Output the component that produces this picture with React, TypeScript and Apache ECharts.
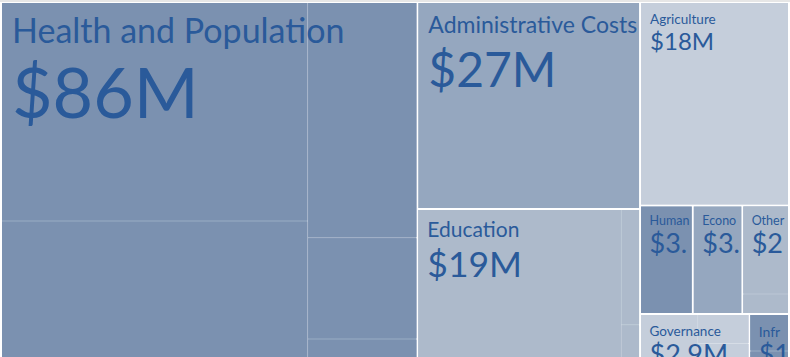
import React, { useEffect, useRef } from 'react';
import * as echarts from 'echarts';

// ---- data ($ millions) ----
const categories = [
  'Health and Population',
  'Administrative Costs',
  'Education',
  'Agriculture',
  'Humanitarian Assistance',
  'Economic Development',
  'Other',
  'Governance',
  'Infrastructure',
];

const healthValues = [38.8, 24.6, 14.9, 6.4, 1.3];
const adminValues = [26.6];
const educationValues = [17.8, 1.23, 0.37];
const agricultureValues = [17.5];
const humanitarianValues = [3.3];
const economicValues = [3.1];
const otherValues = [2.39, 0.53];
const governanceValues = [1.53, 0.88, 0.49];
const infrastructureValues = [0.85, 0.2];

const healthSubs = ['Maternal and Child Health', 'HIV/AIDS', 'Family Planning', 'Malaria', 'Tuberculosis'];
const adminSubs = ['Administrative Costs'];
const educationSubs = ['Basic Education', 'Higher Education', 'Education Administration'];
const agricultureSubs = ['Agriculture'];
const humanitarianSubs = ['Humanitarian Assistance'];
const economicSubs = ['Economic Development'];
const otherSubs = ['Multi-sector', 'Unspecified'];
const governanceSubs = ['Civil Society', 'Rule of Law', 'Good Governance'];
const infrastructureSubs = ['Energy', 'Transport'];

const categoryValues = [
  healthValues, adminValues, educationValues, agricultureValues, humanitarianValues,
  economicValues, otherValues, governanceValues, infrastructureValues,
];
const categorySubs = [
  healthSubs, adminSubs, educationSubs, agricultureSubs, humanitarianSubs,
  economicSubs, otherSubs, governanceSubs, infrastructureSubs,
];

// ---- styles ----
const palette = ['#7b91b0', '#95a7bf', '#adbacb', '#c5cedb'];
const lineColors = ['#bcc8d9', '#c3cedc', '#c9d2de', '#d6dde6'];
const textColor = '#2a5a9a';
const fontFamily = 'Lato, "Noto Sans", sans-serif';

// label layout: font sizes (name / value), baselines relative to cell top, left padding
const labelLayout: Record<string, { ns: number; vs: number; bn: number; bv: number; left: number }> = {
  'Health and Population': { ns: 34, vs: 70, bn: 39, bv: 115, left: 10 },
  'Administrative Costs': { ns: 23, vs: 48, bn: 30, bv: 84, left: 10 },
  'Education': { ns: 21, vs: 35.5, bn: 26.7, bv: 66.7, left: 9 },
  'Agriculture': { ns: 13.5, vs: 24, bn: 21.3, bv: 47, left: 9 },
  'Humanitarian Assistance': { ns: 12.5, vs: 27, bn: 19, bv: 45.7, left: 8.5 },
  'Economic Development': { ns: 12.5, vs: 27, bn: 19, bv: 45.7, left: 8.5 },
  'Other': { ns: 12.5, vs: 27, bn: 19, bv: 45.7, left: 8.3 },
  'Governance': { ns: 13.5, vs: 27, bn: 20.7, bv: 48.5, left: 8.5 },
  'Infrastructure': { ns: 14, vs: 27, bn: 21.3, bv: 48.5, left: 8.3 },
};

const K = 0.38;
const LH = 12;
function lineLabel(fs: number, baseline: number, left: number) {
  return {
    padding: [0, 0, 0, left],
    offset: [0, baseline - LH / 2 - K * fs],
    fontSize: fs,
    lineHeight: LH,
    color: textColor,
    fontFamily,
  };
}

function fmtM(v: number) {
  return v >= 9.95 ? String(Math.round(v)) : v.toFixed(1);
}

const sum = (a: number[]) => a.reduce((x, y) => x + y, 0);

export default function App() {
  const ref = useRef<HTMLDivElement>(null);

  useEffect(() => {
    if (!ref.current) return;
    const chart = echarts.init(ref.current, undefined, { renderer: 'svg' });

    const treeData = categories.map((name, i) => {
      const vals = categoryValues[i];
      const color = palette[i % palette.length];
      const node: any = {
        name,
        value: sum(vals),
        itemStyle: { color, borderColor: lineColors[i % lineColors.length] },
      };
      if (vals.length > 1) {
        node.children = vals.map((v, j) => ({
          name: categorySubs[i][j],
          value: v,
          itemStyle: { color, borderColor: color },
        }));
      }
      return node;
    });

    const clear = 'rgba(0,0,0,0)';
    const nameData = categories.map((name, i) => {
      const s = labelLayout[name];
      return {
        name,
        value: sum(categoryValues[i]),
        itemStyle: { color: clear, borderColor: clear, borderWidth: 0 },
        label: lineLabel(s.ns, s.bn, s.left),
      };
    });
    const valueData = categories.map((name, i) => {
      const s = labelLayout[name];
      return {
        name,
        value: sum(categoryValues[i]),
        itemStyle: { color: clear, borderColor: clear, borderWidth: 0 },
        label: lineLabel(s.vs, s.bv, s.left),
      };
    });

    const box = { left: 2, top: 3, width: 786, height: 356 };

    const overlay = (z: number, data: any[], formatter: any) => ({
      type: 'treemap',
      z,
      ...box,
      roam: false,
      nodeClick: false,
      silent: true,
      breadcrumb: { show: false },
      upperLabel: { show: false },
      itemStyle: { color: clear, borderColor: clear, borderWidth: 0, gapWidth: 2 },
      levels: [{ itemStyle: { gapWidth: 2, borderWidth: 0, borderColor: clear, color: clear } }],
      label: {
        show: true,
        position: 'insideTopLeft',
        distance: 0,
        overflow: 'truncate',
        ellipsis: '',
        color: textColor,
        fontFamily,
        formatter,
      },
      data,
    });

    chart.setOption({
      animation: false,
      series: [
        {
          type: 'treemap',
          z: 2,
          ...box,
          roam: false,
          nodeClick: false,
          silent: true,
          breadcrumb: { show: false },
          label: { show: false },
          upperLabel: { show: false },
          itemStyle: { borderWidth: 0, gapWidth: 0 },
          levels: [
            { itemStyle: { gapWidth: 2, borderWidth: 0, borderColor: '#ffffff' } },
            { itemStyle: { gapWidth: 1, borderWidth: 0 } },
            { itemStyle: { gapWidth: 0, borderWidth: 0 } },
          ],
          data: treeData,
        },
        overlay(10, nameData, (p: any) => p.name),
        overlay(11, valueData, (p: any) => `$${fmtM(p.value)}M`),
      ],
    });

    return () => chart.dispose();
  }, []);

  return (
    <div
      style={{
        position: 'fixed',
        left: 0,
        top: 0,
        width: 790,
        height: 357,
        overflow: 'hidden',
        background: '#ffffff',
      }}
    >
      <div ref={ref} style={{ position: 'absolute', left: 0, top: 0, width: 790, height: 370 }} />
      <div
        style={{ position: 'absolute', left: 0, top: 0, width: 790, height: 2, background: '#e6e6e6' }}
      />
    </div>
  );
}
